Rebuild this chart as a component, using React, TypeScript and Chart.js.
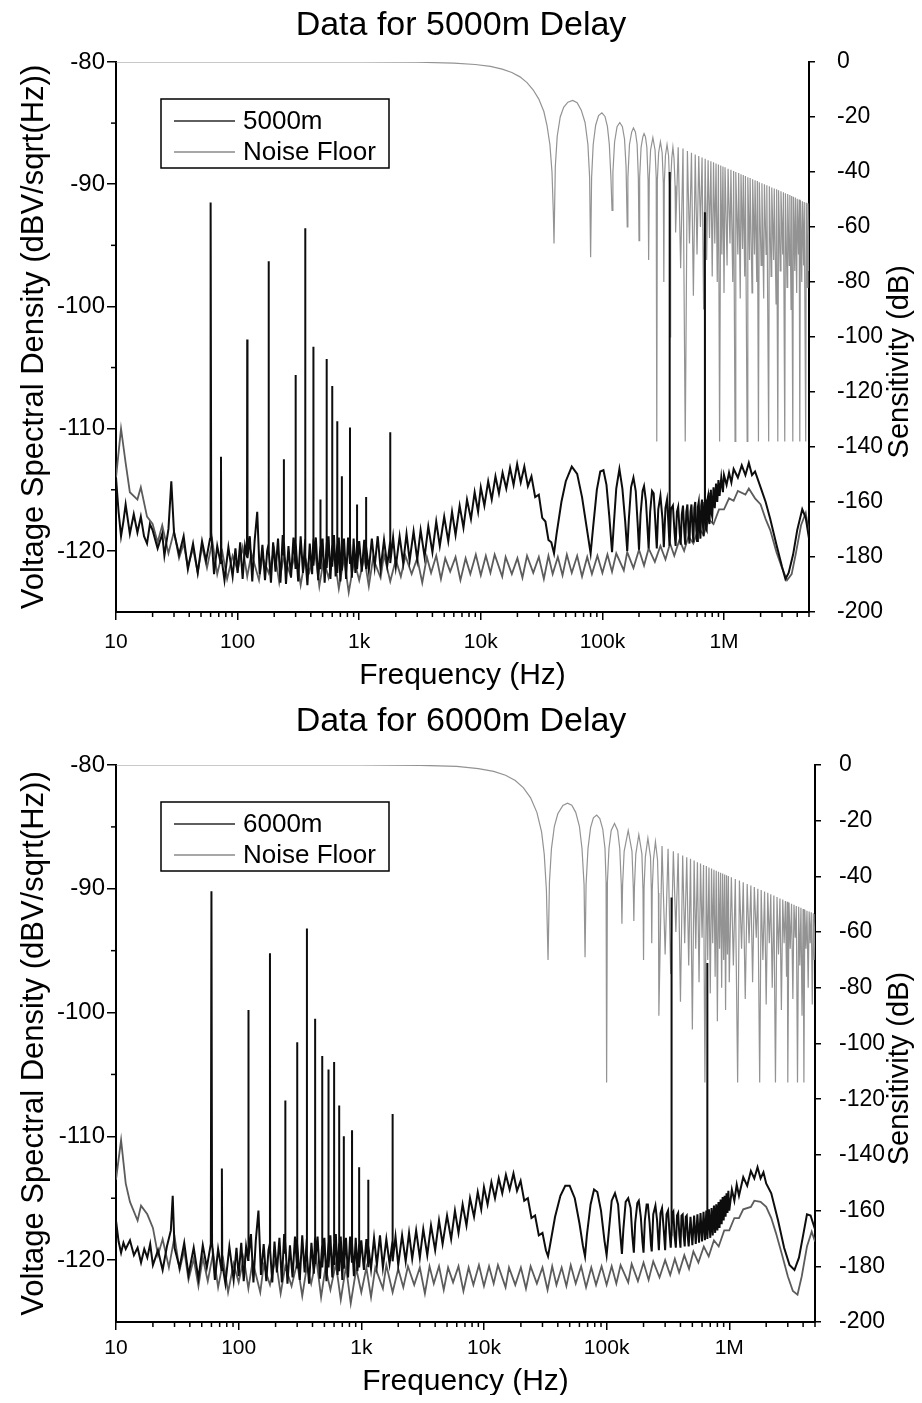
import React, { useEffect, useRef } from 'react';
import { Chart, registerables } from 'chart.js';

Chart.register(...registerables);

const FONT = '"Liberation Sans", Arial, Helvetica, sans-serif';

const xTickValues = [10, 100, 1000, 10000, 100000, 1000000];
const xTickLabels = ['10', '100', '1k', '10k', '100k', '1M'];
const leftTickValues = [-120, -110, -100, -90, -80];
const leftMinorValues = [-115, -105, -95, -85];
const rightTickValues = [-200, -180, -160, -140, -120, -100, -80, -60, -40, -20, 0];
const rightAxisTitle = 'Sensitivity (dB)';

// shared frequency grid for the noise-floor traces (Hz)
const gridFreq = [
  10, 11, 12, 13, 15, 16, 18, 20, 22, 24, 27, 30, 33, 36, 39, 43, 47, 51, 56, 62, 68, 75, 82, 91,
  100, 110, 120, 130, 150, 160, 180, 200, 220, 240, 270, 300, 330, 360, 390, 430, 470, 510, 560, 620, 680, 750, 820, 910,
  1000, 1100, 1200, 1300, 1500, 1600, 1800, 2000, 2200, 2400, 2700, 3000, 3300, 3600, 3900, 4300, 4700, 5100, 5600, 6200, 6800, 7500, 8200, 9100,
  10000, 11000, 12000, 13000, 15000, 16000, 18000, 20000, 22000, 24000, 27000, 30000, 33000, 36000, 39000, 43000, 47000, 51000, 56000, 62000, 68000, 75000, 82000, 91000,
  100000, 110000, 120000, 130000, 150000, 160000, 180000, 200000, 220000, 240000, 270000, 300000, 330000, 360000, 390000, 430000, 470000, 510000, 560000, 620000, 680000, 750000, 820000, 910000,
  1000000, 1100000, 1200000, 1300000, 1500000, 1600000, 1800000, 2000000, 2200000, 2400000, 2700000, 3000000, 3300000, 3600000, 3900000, 4300000, 4700000, 5000000,
];

const noise5000 = [
  -114, -110, -112.8, -115.2, -115.8, -114.8, -117.2, -117.8, -119.3, -117.9, -120.2, -118.4, -120.6, -119.4, -121.3, -119.8, -121.8, -119.6, -121.4, -119.2, -121.9, -120.1, -122.3, -120.4,
  -121.6, -119.7, -122.1, -120.2, -122.4, -120.5, -121.8, -119.9, -122.6, -120.4, -121.9, -120.1, -122.8, -120.6, -121.7, -119.8, -122.9, -120.7, -122.2, -120.3, -123.1, -120.6, -123.4, -120.8,
  -122.4, -120.5, -122.9, -120.6, -122.2, -120.3, -122.5, -120.7, -122.1, -120.4, -121.9, -120.6, -122.6, -120.5, -121.8, -120.4, -122.3, -120.6, -121.7, -120.5, -122.4, -120.6, -121.9, -120.3,
  -122, -120.4, -121.8, -120.3, -122.1, -120.5, -121.9, -120.6, -122.2, -120.4, -121.8, -120.5, -122.3, -120.4, -121.9, -120.5, -122, -120.3, -121.8, -120.4, -122.1, -120.5, -121.9, -120.4,
  -121.8, -120.3, -121.7, -120.2, -121.6, -120.1, -121.4, -119.9, -121.2, -119.8, -120.9, -119.6, -120.7, -119.4, -120.4, -119.1, -120, -118.8, -119.4, -118.1, -118.7, -117.4, -117.8, -116.6,
  -116.6, -115.7, -115.9, -115.1, -115.4, -114.9, -115.7, -116.2, -117.4, -118.3, -120.1, -121.4, -122.4, -121.9, -120.2, -117.9, -116.9, -118.6,
];

const noise6000 = [
  -113.5, -110.3, -113.8, -115.3, -116.8, -115.6, -116.3, -117.4, -119.6, -118.3, -120.6, -118.1, -120.8, -119.2, -121.6, -119.9, -122.1, -119.8, -121.7, -119.4, -122.2, -120, -122.6, -120.3,
  -121.8, -119.8, -122.3, -120.1, -122.6, -120.4, -122, -119.9, -122.7, -120.5, -122.1, -120.2, -122.9, -120.5, -121.9, -119.9, -123, -120.6, -122.4, -120.3, -123.2, -120.5, -123.5, -120.7,
  -122.6, -120.6, -123, -120.6, -122.3, -120.4, -122.6, -120.7, -122.2, -120.5, -122, -120.6, -122.7, -120.5, -121.9, -120.5, -122.4, -120.6, -121.8, -120.5, -122.5, -120.6, -122, -120.4,
  -122.1, -120.5, -121.9, -120.4, -122.2, -120.6, -122, -120.6, -122.3, -120.5, -121.9, -120.6, -122.4, -120.5, -122, -120.6, -122.1, -120.4, -121.9, -120.5, -122.2, -120.6, -122, -120.5,
  -122, -120.5, -121.9, -120.4, -121.8, -120.3, -121.7, -120.2, -121.6, -120.1, -121.4, -120, -121.2, -119.9, -121, -119.6, -120.7, -119.3, -120.2, -118.9, -119.7, -118.4, -118.9, -117.6,
  -117.6, -116.6, -116.6, -115.9, -115.7, -115.2, -115.3, -115.7, -116.6, -117.8, -119.6, -121.3, -122.5, -122.8, -121.3, -118.9, -117.7, -118.5,
];

// [frequency Hz, dBV/sqrt(Hz)]
const meas5000 = [
  [10, -114], [10.5, -116.8], [11, -118.8], [11.5, -117.6], [12, -116.2], [13, -118.6], [14, -117], [15, -118.5], [16, -117.2], [17, -118.8], [18, -119.4], [19, -117.8], [20, -118.3], [22, -119.8], [24, -118.6], [25, -120.4], [27, -118.2], [28.5, -114.3], [30, -118.5], [33, -120.3], [36, -118.8], [39, -121.5], [43, -119.4], [47, -121.8], [51, -119.2], [55, -120.8], [59.3, -119], [60, -91.5], [60.7, -118.5], [64, -121.9], [68, -119.6], [72.5, -121], [73, -112.3], [73.5, -120.5], [78, -122.4], [84, -119.7], [91, -122.1], [96, -119.8],
  [100, -121.8], [105, -119.3], [110, -122.3], [115, -119.6], [119.4, -120.5], [120, -102.7], [120.6, -120.6], [126, -118.8], [132, -122.5], [138, -119.2], [145, -116.8], [152, -121.9], [160, -119.5], [168, -122.4], [175, -120], [179.4, -119.5], [180, -96.3], [180.6, -120], [188, -122.6], [196, -119.3], [205, -121.7], [215, -119], [225, -122.6], [235, -118.7], [239.4, -120.3], [240, -112.5], [240.6, -119.2], [250, -122.7], [262, -119.6], [275, -122.2], [288, -118.9], [299.4, -121.4], [300, -105.6], [300.6, -119.3], [315, -122.5], [330, -118.8], [345, -121.8], [359.4, -119.1], [360, -93.6], [360.6, -120.4], [375, -122.8], [392, -119.4], [410, -121.9], [419.4, -119], [420, -103.3], [420.6, -121.2], [440, -118.9], [460, -122.4], [479.4, -119.6], [480, -115.8], [480.6, -121.5], [500, -119], [520, -122.6], [539.4, -119.3], [540, -104.3], [540.6, -121.4], [560, -118.8], [580, -122.3], [599.4, -119.5], [600, -106.5], [600.6, -121.3], [620, -118.7], [640, -122.1], [659.4, -119.4], [660, -109.4], [660.6, -121.8], [680, -118.9], [700, -122.5], [719.4, -119.2], [720, -113.9], [720.6, -121.6], [750, -119], [780, -122.3], [810, -118.9], [839.4, -121], [840, -109.9], [840.6, -119.4], [870, -122.2], [900, -119], [930, -121.8], [959.4, -119.5], [960, -116.2], [960.6, -121.5],
  [1000, -119.2], [1050, -121.7], [1100, -119.1], [1139.4, -121.4], [1140, -115.6], [1140.6, -119.6], [1200, -121.6], [1270, -119], [1340, -121.3], [1420, -118.8], [1500, -121.5], [1600, -119.1], [1700, -121.2], [1799, -119.2], [1800, -110.3], [1801, -121], [1900, -118.9], [2000, -121.3], [2150, -118.8], [2300, -121], [2450, -118.6], [2600, -120.8], [2800, -118.4], [3000, -120.7], [3200, -118.3], [3450, -120.5], [3700, -118], [4000, -120.1], [4300, -117.6], [4600, -119.6], [5000, -117.2], [5400, -119.2], [5800, -116.8], [6200, -118.7], [6700, -116.3], [7200, -118.1], [7700, -115.8], [8300, -117.4], [8900, -115.2], [9500, -116.8],
  [10000, -114.8], [10700, -116.3], [11500, -114.3], [12300, -115.8], [13200, -113.9], [14100, -115.3], [15100, -113.6], [16200, -114.9], [17400, -113.2], [18600, -114.6], [19900, -112.9], [21300, -114.4], [22800, -113.1], [24400, -114.7], [26100, -113.9], [28000, -115.6], [30000, -115.4], [32000, -117.3], [34000, -117.6], [36000, -119.1], [38000, -119.3], [40000, -120.2],
  [42000, -118.6], [46000, -116], [50000, -114.3], [56000, -113.1], [62000, -113.7], [68000, -115.6], [74000, -118], [80000, -120.2], [84000, -118], [90000, -115], [96000, -113.5], [102000, -113.4], [108000, -114.6], [114000, -117.2], [120000, -120.1], [124000, -117.9], [130000, -114.9], [138000, -113.3], [146000, -114.9], [154000, -117.6], [160000, -120], [165000, -117.4], [172000, -114.8], [180000, -114], [188000, -115.1], [195000, -117.8], [200000, -119.9], [206000, -117], [214000, -115.1], [220000, -114.7], [228000, -115.9], [236000, -118.5], [240000, -119.8], [247000, -116.8], [256000, -115.1], [264000, -115.3], [272000, -117.5], [280000, -119.8], [288000, -116.6], [300000, -115.5], [312000, -117.4], [320000, -119.7], [330000, -116.5], [340000, -115.8], [350000, -118], [356000, -119.5], [357000, -89], [358000, -119.5], [366000, -116.6], [380000, -116.3], [392000, -118.5], [400000, -119.6], [410000, -116.8], [420000, -116.4], [432000, -118.5], [440000, -119.5], [450000, -117], [460000, -116.3], [472000, -118.5], [480000, -119.5], [490000, -116.8], [500000, -116.2], [512000, -118.6], [520000, -119.4], [530000, -116.8], [540000, -116.2], [552000, -118.4], [560000, -119.3], [570000, -116.5], [580000, -116], [592000, -118.3], [600000, -119.2], [610000, -116.4], [620000, -116], [632000, -118.2], [640000, -119], [650000, -116.3], [660000, -115.8], [672000, -118], [680000, -118.8], [690000, -116], [696000, -117], [697000, -92.3], [698000, -117], [704000, -115.8], [712000, -118.2], [720000, -118.3], [730000, -115.8], [740000, -115.5], [752000, -117.5], [760000, -117.8], [770000, -115.3], [780000, -115], [792000, -117], [800000, -117.2], [820000, -114.8], [840000, -116.5], [860000, -114.5], [880000, -116], [900000, -114.2], [920000, -115.5], [950000, -114], [980000, -115.2], [1000000, -113.8],
  [1050000, -114.6], [1100000, -113.6], [1150000, -114.4], [1200000, -113.3], [1300000, -114], [1400000, -113], [1500000, -113.8], [1600000, -112.8], [1700000, -113.8], [1800000, -113.5], [2000000, -114.8], [2200000, -116], [2400000, -117.4], [2700000, -119.5], [3000000, -121.3], [3200000, -122.3], [3400000, -121.8], [3700000, -120.3], [4000000, -118.3], [4400000, -116.6], [4700000, -117.3], [5000000, -119],
];

const meas6000 = [
  [10, -116.8], [10.5, -118.5], [11, -119.4], [11.5, -118.6], [12, -119.1], [13, -118.4], [14, -119.6], [15, -119], [16, -120.2], [17, -119.1], [18, -119.8], [19, -118.7], [20, -120.4], [22, -119.2], [24, -120.8], [26, -118.9], [28, -117.6], [29, -114.8], [30, -119], [33, -120.6], [36, -118.6], [39, -121.2], [43, -119], [47, -121.5], [51, -118.8], [55, -120.6], [59.3, -118.7], [60, -90.2], [60.7, -118.6], [64, -121.6], [68, -119.1], [72.5, -120.8], [73, -112.6], [73.5, -120.3], [78, -121.9], [84, -118.9], [91, -121.6], [96, -119],
  [100, -121.3], [105, -118.6], [110, -121.7], [115, -118.9], [119.4, -120], [120, -99.8], [120.6, -119.8], [126, -117.9], [132, -121.8], [138, -118.4], [145, -116], [152, -121.2], [160, -118.7], [168, -121.7], [175, -119.2], [179.4, -118.7], [180, -95.2], [180.6, -119.2], [188, -121.8], [196, -118.5], [205, -121], [215, -118.2], [225, -121.8], [235, -117.9], [239.4, -119.4], [240, -107.1], [240.6, -118.5], [250, -121.9], [262, -118.8], [275, -121.4], [288, -118.1], [299.4, -120.6], [300, -102.4], [300.6, -118.6], [315, -121.6], [330, -118], [345, -121], [359.4, -118.3], [360, -93.2], [360.6, -119.6], [375, -121.9], [392, -118.6], [410, -121.1], [419.4, -118.2], [420, -100.5], [420.6, -120.3], [440, -118.1], [460, -121.5], [479.4, -118.8], [480, -103.5], [480.6, -120.6], [500, -118.2], [520, -121.7], [539.4, -118.6], [540, -104.6], [540.6, -120.6], [560, -118], [580, -121.4], [599.4, -118.7], [600, -104], [600.6, -120.4], [620, -117.9], [640, -121.2], [659.4, -118.6], [660, -107.5], [660.6, -120.9], [680, -118.1], [700, -121.6], [719.4, -118.4], [720, -110], [720.6, -120.7], [750, -118.2], [780, -121.4], [810, -118.1], [839.4, -120.2], [840, -109.5], [840.6, -118.6], [870, -121.3], [900, -118.2], [930, -120.9], [959.4, -118.7], [960, -112.5], [960.6, -120.6],
  [1000, -118.4], [1050, -120.8], [1100, -118.3], [1139.4, -120.5], [1140, -113.5], [1140.6, -118.8], [1200, -120.7], [1270, -118.2], [1340, -120.4], [1420, -118], [1500, -120.6], [1600, -118.3], [1700, -120.3], [1799, -118.4], [1800, -108.2], [1801, -120.1], [1900, -118.1], [2000, -120.4], [2150, -118], [2300, -120.1], [2450, -117.8], [2600, -119.9], [2800, -117.6], [3000, -119.8], [3200, -117.5], [3450, -119.6], [3700, -117.2], [4000, -119.2], [4300, -116.8], [4600, -118.7], [5000, -116.4], [5400, -118.3], [5800, -116], [6200, -117.8], [6700, -115.5], [7200, -117.2], [7700, -115], [8300, -116.5], [8900, -114.5], [9500, -115.9],
  [10000, -114.1], [10700, -115.5], [11500, -113.7], [12300, -115], [13200, -113.4], [14100, -114.6], [15100, -113.1], [16200, -114.3], [17400, -113], [18600, -114.4], [19900, -113.6], [21300, -115.2], [22800, -115], [24400, -116.6], [26100, -116.4], [28000, -118], [30000, -117.8], [32000, -119.2], [33300, -119.7],
  [35000, -118.5], [38000, -116.5], [42000, -114.8], [46000, -114], [50000, -114], [55000, -115], [60000, -117], [64000, -118.8], [66700, -119.7], [69000, -118], [74000, -115.5], [79000, -114.3], [84000, -114.5], [90000, -116], [96000, -118.4], [100000, -119.6], [104000, -117.8], [110000, -115.2], [117000, -114.6], [124000, -115.5], [129000, -117.8], [133300, -119.5], [137000, -117.5], [143000, -115.3], [150000, -115], [157000, -115.8], [162000, -118], [166700, -119.4], [171000, -117], [178000, -115.4], [183000, -115.2], [190000, -116.5], [196000, -118.5], [200000, -119.4], [205000, -116.8], [212000, -115.5], [217000, -115.5], [224000, -117], [230000, -118.8], [233300, -119.3], [240000, -116.3], [250000, -115.6], [258000, -116.8], [266700, -119.2], [275000, -116.2], [283000, -115.8], [292000, -117.5], [300000, -119.2], [308000, -116.3], [317000, -116], [326000, -117.8], [333300, -119], [337000, -118], [338000, -90.7], [339000, -118], [342000, -116.3], [350000, -116.1], [358000, -118], [366700, -119], [375000, -116.4], [383000, -116.2], [392000, -118], [400000, -119], [408000, -116.4], [417000, -116.3], [425000, -118], [433300, -118.9], [442000, -116.5], [450000, -116.4], [458000, -118], [466700, -118.9], [483000, -116.5], [500000, -118.8], [517000, -116.4], [533000, -118.7], [550000, -116.3], [567000, -118.6], [583000, -116.2], [600000, -118.5], [617000, -116.1], [633000, -118.4], [650000, -116], [659000, -117.5], [660000, -96], [661000, -117.5], [667000, -118.3], [683000, -115.9], [700000, -118.2], [717000, -115.8], [733000, -118], [750000, -115.6], [767000, -117.8], [783000, -115.5], [800000, -117.6], [817000, -115.3], [833000, -117.4], [850000, -115.1], [867000, -117.1], [883000, -114.9], [900000, -116.8], [917000, -114.8], [933000, -116.5], [950000, -114.6], [967000, -116.2], [983000, -114.4], [1000000, -116],
  [1050000, -114.3], [1100000, -115.2], [1150000, -113.9], [1200000, -114.8], [1300000, -113.3], [1400000, -114], [1500000, -112.8], [1600000, -113.4], [1700000, -112.5], [1800000, -113.4], [1900000, -112.9], [2000000, -113.8], [2200000, -114.6], [2500000, -116.8], [2800000, -119], [3100000, -120.4], [3400000, -120.8], [3700000, -119.8], [4000000, -118], [4300000, -116.3], [4600000, -116.4], [5000000, -117.5],
];

// [frequency Hz, sensitivity dB]
const sens5000 = [
  [10, 0], [1000, 0], [3000, -0.1], [6000, -0.4], [9000, -0.9], [12000, -1.6], [15000, -2.6], [18000, -3.8], [21000, -5.4], [24000, -7.5], [27000, -10.2], [30000, -13.5], [33000, -18], [35000, -23], [37000, -30], [38500, -40], [39500, -55], [40000, -66],
  [41000, -38], [42500, -27], [45000, -20], [48000, -16.5], [52000, -14.6], [57000, -14], [62000, -14.8], [67000, -17.5], [72000, -22], [76000, -30], [78500, -42], [80000, -71],
  [81500, -42], [84000, -30], [88000, -23], [93000, -19.5], [99000, -18.5], [105000, -19.8], [110000, -23.5], [114000, -30], [117500, -42], [120000, -54],
  [122000, -40], [126000, -29], [132000, -23.5], [139000, -22], [146000, -23.5], [152000, -28], [156500, -38], [160000, -60],
  [162000, -42], [167000, -30], [174000, -25.5], [180000, -24], [187000, -25.5], [193000, -30], [197500, -42], [200000, -65],
  [202500, -42], [208000, -31], [215000, -27.2], [220000, -26], [226000, -27.2], [232000, -31], [237500, -43], [240000, -72],
  [243000, -42], [249000, -32], [260000, -27.5], [271000, -32], [277000, -42], [280000, -138],
  [283000, -43], [290000, -33], [300000, -29], [310000, -33], [317000, -44], [320000, -80],
  [323000, -44], [330000, -34], [340000, -30], [350000, -34], [357000, -45], [360000, -100],
  [364000, -44], [372000, -35], [380000, -31], [388000, -35], [396000, -45], [400000, -62],
  [420000, -31], [440000, -75], [460000, -31.5], [480000, -138], [500000, -32.4], [520000, -66], [540000, -33], [560000, -85], [580000, -33.6], [600000, -70], [620000, -34.2], [640000, -60], [660000, -34.7], [680000, -90], [700000, -35.2], [720000, -72], [740000, -35.7], [760000, -64], [780000, -36.1], [800000, -78], [820000, -36.5], [840000, -66], [860000, -36.9], [880000, -80], [900000, -37.3], [920000, -138], [940000, -37.6], [960000, -70], [980000, -38], [1000000, -84], [1020000, -38.3],
  [1060000, -74], [1080000, -38.8], [1120000, -66], [1140000, -39.2], [1180000, -80], [1200000, -39.6], [1233000, -138], [1250000, -40], [1300000, -70], [1320000, -40.4], [1360000, -86], [1380000, -40.8], [1420000, -68], [1440000, -41.1], [1480000, -78], [1500000, -41.5], [1550000, -138], [1570000, -41.9], [1620000, -72], [1640000, -42.2], [1700000, -84], [1720000, -42.6], [1780000, -70], [1800000, -43], [1860000, -80], [1880000, -43.3], [1920000, -138], [1950000, -43.7], [2020000, -74], [2050000, -44.1], [2120000, -86], [2150000, -44.5], [2220000, -70], [2250000, -44.8], [2330000, -138], [2360000, -45.2], [2440000, -78], [2470000, -45.6], [2560000, -72], [2590000, -46], [2680000, -88], [2710000, -46.3], [2770000, -138], [2810000, -46.6], [2900000, -76], [2940000, -47], [3040000, -70], [3080000, -47.4], [3160000, -138], [3200000, -47.7], [3300000, -82], [3340000, -48], [3440000, -74], [3480000, -48.4], [3560000, -90], [3600000, -48.7], [3680000, -138], [3720000, -49], [3820000, -76], [3860000, -49.3], [3960000, -84], [4000000, -49.7], [4100000, -70], [4150000, -50], [4200000, -138], [4250000, -50.3], [4360000, -80], [4410000, -50.6], [4520000, -74], [4570000, -50.9], [4700000, -138], [4750000, -51.2], [4850000, -82], [4900000, -51.4], [5000000, -76],
];

const sens6000 = [
  [10, 0], [1000, 0], [3000, -0.1], [6000, -0.5], [9000, -1.3], [12000, -2.3], [15000, -3.7], [18000, -5.6], [21000, -8.2], [24000, -11.8], [27000, -17], [29500, -24], [31000, -32], [32300, -45], [33300, -70],
  [34200, -42], [35500, -30], [37500, -22], [40000, -17.5], [44000, -14.5], [48000, -13.7], [52000, -14.4], [56000, -17], [60000, -22], [63000, -30], [65500, -43], [66700, -69],
  [68000, -43], [70500, -30], [74000, -22.5], [78000, -19], [83000, -18], [88000, -19.2], [93000, -23], [97000, -30], [99000, -42], [100000, -114],
  [101500, -42], [104500, -30], [109000, -23.5], [116000, -21], [123000, -23.5], [128000, -30], [131700, -43], [133300, -57],
  [135000, -43], [139000, -31], [150000, -23.5], [161000, -31], [165000, -44], [166700, -56],
  [168500, -44], [173000, -32], [183000, -25], [194000, -32], [198000, -45], [200000, -70],
  [202000, -44], [207000, -33], [217000, -26.3], [228000, -33], [231500, -45], [233300, -64],
  [235500, -45], [241000, -34], [250000, -27.5], [260000, -34], [264500, -46], [266700, -90],
  [283000, -29.1], [300000, -68], [317000, -30.1], [333000, -75], [350000, -31], [367000, -60], [383000, -31.7], [400000, -85], [417000, -32.5], [433000, -64], [450000, -33.1], [467000, -72], [483000, -33.7], [500000, -95], [517000, -34.3], [533000, -66], [550000, -34.9], [567000, -78], [583000, -35.4], [600000, -62], [617000, -35.9], [633000, -114], [650000, -36.3], [667000, -70], [683000, -36.8], [700000, -82], [717000, -37.2], [733000, -64], [750000, -37.6], [767000, -76], [783000, -38], [800000, -92], [817000, -38.3], [833000, -66], [850000, -38.7], [867000, -80], [883000, -39], [900000, -70], [917000, -39.3], [933000, -88], [950000, -39.6], [967000, -68], [983000, -39.9], [1000000, -78],
  [1040000, -40.3], [1080000, -72], [1120000, -40.9], [1170000, -114], [1210000, -41.5], [1260000, -66], [1300000, -42.1], [1350000, -84], [1400000, -42.7], [1450000, -64], [1500000, -43.3], [1550000, -78], [1600000, -43.8], [1660000, -62], [1710000, -44.4], [1770000, -114], [1820000, -44.9], [1880000, -70], [1940000, -45.4], [2000000, -86], [2060000, -45.9], [2120000, -64], [2180000, -46.4], [2240000, -80], [2310000, -46.9], [2380000, -114], [2450000, -47.4], [2520000, -68], [2590000, -47.9], [2660000, -88], [2730000, -48.3], [2800000, -64], [2870000, -48.8], [2930000, -76], [2970000, -49.1], [3000000, -114], [3070000, -49.4], [3140000, -66], [3220000, -49.8], [3300000, -84], [3370000, -50.2], [3450000, -62], [3520000, -50.6], [3600000, -114], [3680000, -50.9], [3760000, -72], [3840000, -51.3], [3920000, -90], [4000000, -51.7], [4060000, -114], [4130000, -52], [4220000, -66], [4300000, -52.3], [4400000, -80], [4480000, -52.6], [4570000, -64], [4660000, -52.9], [4750000, -86], [4840000, -53.2], [4920000, -70], [5000000, -53.5],
];

const legendLineColors = ['#2a2a2a', '#8a8a8a'];

type Spec = {
  title: string;
  measLabel: string;
  meas: number[][];
  noise: number[];
  sens: number[][];
  height: number;
  area: { left: number; right: number; top: number; bottom: number };
  titlePad: { top: number; bottom: number };
  xTitlePad: number;
  xTickPad: number;
  rightTickPad: number;
};

const spec5000: Spec = {
  title: 'Data for 5000m Delay',
  measLabel: '5000m',
  meas: meas5000,
  noise: noise5000,
  sens: sens5000,
  height: 698,
  area: { left: 116, right: 809, top: 62, bottom: 612 },
  titlePad: { top: 9, bottom: 19 },
  xTitlePad: 4,
  xTickPad: 10,
  rightTickPad: 22,
};

const spec6000: Spec = {
  title: 'Data for 6000m Delay',
  measLabel: '6000m',
  meas: meas6000,
  noise: noise6000,
  sens: sens6000,
  height: 705,
  area: { left: 116, right: 815, top: 67, bottom: 624 },
  titlePad: { top: 7, bottom: 26 },
  xTitlePad: 3,
  xTickPad: 6,
  rightTickPad: 18,
};

function Panel({ spec }: { spec: Spec }) {
  const ref = useRef<HTMLCanvasElement>(null);
  useEffect(() => {
    const canvas = ref.current;
    if (!canvas) return;
    const W = 922;
    const H = spec.height;
    const A = spec.area;
    const measData = spec.meas.map(([x, y]) => ({ x, y }));
    const n = Math.min(gridFreq.length, spec.noise.length);
    const noiseData = gridFreq.slice(0, n).map((x, i) => ({ x, y: spec.noise[i] }));
    const sensData = spec.sens.map(([x, y]) => ({ x, y }));

    const decor = {
      id: 'decor',
      afterDraw(chart: any) {
        const { ctx, chartArea: ca, scales } = chart;
        ctx.save();
        ctx.strokeStyle = '#000';
        ctx.lineWidth = 1.5;
        for (const d of xTickValues) {
          for (let m = 2; m <= 9; m++) {
            const f = d * m;
            if (f > 5e6) continue;
            const px = scales.x.getPixelForValue(f);
            ctx.beginPath();
            ctx.moveTo(px, ca.bottom);
            ctx.lineTo(px, ca.bottom + 5);
            ctx.stroke();
          }
        }
        for (const v of leftMinorValues) {
          const py = scales.y.getPixelForValue(v);
          ctx.beginPath();
          ctx.moveTo(ca.left, py);
          ctx.lineTo(ca.left - 5, py);
          ctx.stroke();
        }
        // right axis title (reads bottom-to-top, as in the original)
        ctx.save();
        ctx.translate(900, ca.top + 0.545 * (ca.bottom - ca.top));
        ctx.rotate(-Math.PI / 2);
        ctx.fillStyle = '#000';
        ctx.font = `29px ${FONT}`;
        ctx.textAlign = 'center';
        ctx.textBaseline = 'middle';
        ctx.fillText(rightAxisTitle, 0, 0);
        ctx.restore();
        // legend box
        const bx = ca.left + 45;
        const by = ca.top + 37;
        const bw = 228;
        const bh = 69;
        ctx.fillStyle = '#fff';
        ctx.fillRect(bx, by, bw, bh);
        ctx.strokeStyle = '#000';
        ctx.lineWidth = 1.5;
        ctx.strokeRect(bx, by, bw, bh);
        [0, 1].forEach((i) => {
          const ds = chart.data.datasets[i];
          const yy = by + 22 + i * 31;
          ctx.strokeStyle = legendLineColors[i];
          ctx.lineWidth = 1.6;
          ctx.beginPath();
          ctx.moveTo(bx + 13, yy);
          ctx.lineTo(bx + 74, yy);
          ctx.stroke();
          ctx.fillStyle = '#000';
          ctx.font = `26px ${FONT}`;
          ctx.textBaseline = 'middle';
          ctx.textAlign = 'left';
          ctx.fillText(ds.label, bx + 82, yy + 1);
        });
        ctx.restore();
      },
    };

    const axisGrid = (len: number) => ({
      display: true,
      drawOnChartArea: false,
      drawTicks: true,
      tickLength: len,
      color: '#000',
      lineWidth: 1.5,
    });
    const axisBorder = { display: true, color: '#000', width: 2 };

    const chart = new Chart(canvas, {
      type: 'line',
      data: {
        datasets: [
          { label: spec.measLabel, data: measData, yAxisID: 'y', borderColor: '#0d0d0d', borderWidth: 2, pointRadius: 0, tension: 0 },
          { label: 'Noise Floor', data: noiseData, yAxisID: 'y', borderColor: '#5c5c5c', borderWidth: 1.8, pointRadius: 0, tension: 0 },
          { label: 'Sensitivity', data: sensData, yAxisID: 'y1', borderColor: '#939393', borderWidth: 1.2, pointRadius: 0, tension: 0 },
        ],
      },
      options: {
        responsive: false,
        animation: false,
        devicePixelRatio: 1,
        events: [],
        layout: { padding: 0 },
        plugins: {
          legend: { display: false },
          tooltip: { enabled: false },
          title: {
            display: true,
            text: spec.title,
            color: '#000',
            font: { family: FONT, size: 34, weight: 'normal', lineHeight: 1 },
            padding: spec.titlePad,
          },
        },
        scales: {
          x: {
            type: 'logarithmic',
            position: 'bottom',
            min: 10,
            max: 5e6,
            bounds: 'data',
            afterBuildTicks: (s: any) => {
              s.ticks = xTickValues.map((v) => ({ value: v }));
            },
            afterFit: (s: any) => {
              s.height = H - A.bottom;
            },
            ticks: {
              autoSkip: false,
              maxRotation: 0,
              minRotation: 0,
              color: '#000',
              padding: spec.xTickPad,
              font: { family: FONT, size: 21 },
              callback: (v: any) => {
                const i = xTickValues.indexOf(Number(v));
                return i >= 0 ? xTickLabels[i] : '';
              },
            },
            grid: axisGrid(8),
            border: axisBorder,
            title: {
              display: true,
              text: 'Frequency (Hz)',
              color: '#000',
              font: { family: FONT, size: 30 },
              padding: { top: 0, bottom: spec.xTitlePad },
            },
          },
          y: {
            type: 'linear',
            position: 'left',
            min: -125,
            max: -80,
            bounds: 'data',
            afterBuildTicks: (s: any) => {
              s.ticks = leftTickValues.map((v) => ({ value: v }));
            },
            afterFit: (s: any) => {
              s.width = A.left;
            },
            ticks: { color: '#000', padding: 2, font: { family: FONT, size: 24 } },
            grid: axisGrid(9),
            border: axisBorder,
            title: {
              display: true,
              text: 'Voltage Spectral Density (dBV/sqrt(Hz))',
              color: '#000',
              font: { family: FONT, size: 31 },
              padding: { top: 16, bottom: 0 },
            },
          },
          y1: {
            type: 'linear',
            position: 'right',
            min: -200,
            max: 0,
            bounds: 'data',
            afterBuildTicks: (s: any) => {
              s.ticks = rightTickValues.map((v) => ({ value: v }));
            },
            afterFit: (s: any) => {
              s.width = W - A.right;
            },
            ticks: { color: '#000', padding: spec.rightTickPad, font: { family: FONT, size: 23 } },
            grid: axisGrid(6),
            border: axisBorder,
            title: { display: false, text: rightAxisTitle },
          },
        },
      } as any,
      plugins: [decor],
    });
    return () => chart.destroy();
  }, [spec]);

  return (
    <canvas
      ref={ref}
      width={922}
      height={spec.height}
      style={{ display: 'block', width: 922, height: spec.height }}
    />
  );
}

export default function App() {
  return (
    <div style={{ margin: -8, width: 922, height: 1403, background: '#fff', overflow: 'hidden' }}>
      <Panel spec={spec5000} />
      <Panel spec={spec6000} />
    </div>
  );
}
